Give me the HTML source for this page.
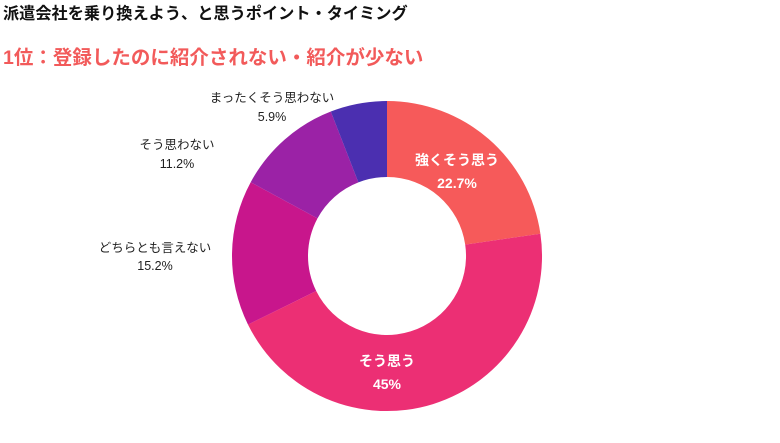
<!DOCTYPE html>
<html><head><meta charset="utf-8"><style>
html,body{margin:0;padding:0;background:#fff;}
body{width:780px;height:438px;overflow:hidden;font-family:"Liberation Sans","Noto Sans CJK JP",sans-serif;}
</style></head><body>
<svg width="780" height="438" xmlns="http://www.w3.org/2000/svg" style="font-family:'Liberation Sans','Noto Sans CJK JP',sans-serif">
<text x="3" y="19" font-size="16.2" font-weight="bold" fill="#111">派遣会社を乗り換えよう、と思うポイント・タイミング</text>
<text x="3" y="64" font-size="19.5" font-weight="bold" fill="#f25a5a">1位：登録したのに紹介されない・紹介が少ない</text>
<g stroke="none">
<path d="M387,101 A155,155 0 0 1 540.4,233.7 L465.2,244.6 A79,79 0 0 0 387,177 Z" fill="#f65a5a"/>
<path d="M540.4,233.7 A155,155 0 0 1 248.0,324.6 L316.2,291.0 A79,79 0 0 0 465.2,244.6 Z" fill="#ec2f74"/>
<path d="M248.0,324.6 A155,155 0 0 1 250.7,182.2 L317.5,218.4 A79,79 0 0 0 316.2,291.0 Z" fill="#c8168c"/>
<path d="M250.7,182.2 A155,155 0 0 1 330.8,111.5 L358.4,182.4 A79,79 0 0 0 317.5,218.4 Z" fill="#9b22a6"/>
<path d="M330.8,111.5 A155,155 0 0 1 387,101 L387,177 A79,79 0 0 0 358.4,182.4 Z" fill="#4b2fb0"/>
</g>
<g font-size="14" font-weight="bold" fill="#fff" text-anchor="middle">
<text x="457" y="165">強くそう思う</text>
<text x="457" y="188">22.7%</text>
<text x="387" y="366">そう思う</text>
<text x="387" y="389">45%</text>
</g>
<g font-size="12.5" fill="#222" text-anchor="middle">
<text x="272" y="102">まったくそう思わない</text>
<text x="272" y="121">5.9%</text>
<text x="177" y="149">そう思わない</text>
<text x="177" y="168">11.2%</text>
<text x="155" y="252">どちらとも言えない</text>
<text x="155" y="270">15.2%</text>
</g>
</svg>
</body></html>
